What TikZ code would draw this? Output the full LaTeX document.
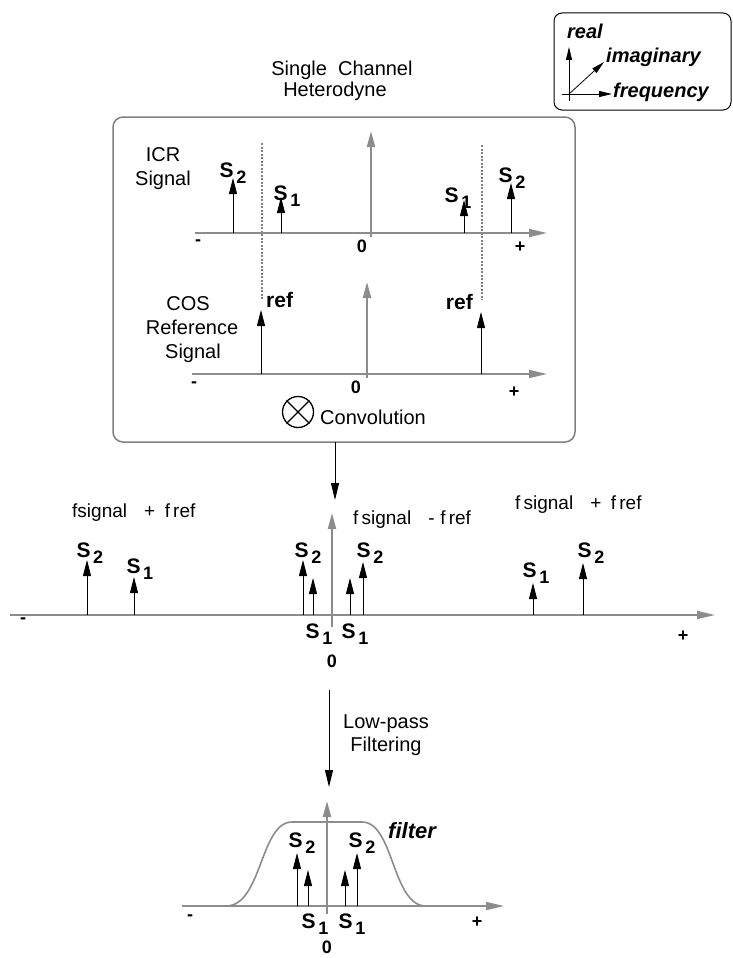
\documentclass[tikz,border=0pt]{standalone}
\usepackage{fontspec}
\setmainfont{Liberation Sans}
\usetikzlibrary{arrows.meta}
\newcommand\sgl[1]{{\fontsize{21}{21}\selectfont\bfseries S\hspace{2.5pt}\raisebox{-6pt}{\fontsize{18}{18}\selectfont #1}}}
\begin{document}
\begin{tikzpicture}[x=1pt,y=-1pt,
  txt/.style={font=\fontsize{20}{24}\selectfont, inner sep=0pt, anchor=base},
  ftxt/.style={font=\fontsize{19}{24}\selectfont, inner sep=0pt, anchor=base west},
  sym/.style={font=\fontsize{18}{18}\selectfont\bfseries, inner sep=0pt},
  lab/.style={inner sep=0pt, anchor=base},
  leg/.style={font=\fontsize{20}{20}\selectfont\bfseries\itshape, inner sep=0pt, anchor=base west},
  gaxis/.style={draw=black!45, line width=1.6pt, -{Triangle[length=18pt,width=8pt]}},
  gzero/.style={draw=black!45, line width=2pt, -{Triangle[length=16pt,width=8pt]}},
  sarrow/.style={draw=black, line width=0.9pt, -{Triangle[length=16pt,width=8pt]}},
  flowarrow/.style={draw=black, line width=1pt, -{Triangle[length=17pt,width=8pt]}},
  legarrow/.style={draw=black, line width=0.8pt, -{Triangle[length=13pt,width=6pt]}},
  guideline/.style={draw=black!50, line width=1.5pt, dash pattern=on 2pt off 1.5pt},
  gbox/.style={draw=black!50, line width=1.5pt, rounded corners=10pt},
]
\useasboundingbox (0,0) rectangle (732,958);

% ---------- legend ----------
\draw[black, line width=1pt, rounded corners=8pt] (554,13) rectangle (731,110);
\coordinate (o) at (569,94);
\coordinate (ore) at (569,47);
\coordinate (oim) at (604,62);
\coordinate (ofr) at (612,94);
\draw[black, line width=0.8pt] (569,101) -- (o);
\draw[black, line width=0.8pt] (562,94) -- (o);
\draw[legarrow] (o) -- (ore);
\draw[legarrow] (o) -- (oim);
\draw[legarrow] (o) -- (ofr);
\node[leg] (lreal) at (567,38) {real};
\node[leg] (limag) at (606,63) {imaginary};
\node[leg] (lfreq) at (613,97) {frequency};

% ---------- title ----------
\node[txt] (t1) at (342,75) {Single\ \ Channel};
\node[txt] (t2) at (335,96) {Heterodyne};

% ---------- main box ----------
\draw[gbox] (113,117) rectangle (575,442);
\node[txt] (icr1) at (163,161) {ICR};
\node[txt] (icr2) at (163,185) {Signal};
\node[txt] (cos1) at (188,310) {COS};
\node[txt] (cos2) at (192,334) {Reference};
\node[txt] (cos3) at (193,358) {Signal};

% guides
\draw[guideline] (262,143) -- (262,300);
\draw[guideline] (482,145) -- (482,300);

% axis 1
\draw[gaxis] (195,233) -- (547,233);
\draw[gzero] (371,237) -- (371,131);
\node[sym] (m1) at (198,243) {-};
\node[sym] (z1) at (362,246) {0};
\node[sym] (p1) at (520,247) {+};
\foreach \x/\t in {233/178, 281/197, 464/200, 511/183}
  \draw[sarrow] (\x,233) -- (\x,\t);
\node[lab] (a1) at (233,177) {\sgl{2}};
\node[lab] (a2) at (287,200) {\sgl{1}};
\node[lab] (a3) at (458,202) {\sgl{1}};
\node[lab] (a4) at (512,182) {\sgl{2}};

% axis 2
\draw[gaxis] (192,374) -- (547,374);
\draw[gzero] (367,378) -- (367,282);
\node[sym] (m2) at (194,385) {-};
\node[sym] (z2) at (356,387) {0};
\node[sym] (p2) at (514,392) {+};
\draw[sarrow] (261,374) -- (261,310);
\draw[sarrow] (481,374) -- (481,312);
\node[font=\fontsize{21}{21}\selectfont\bfseries, inner sep=0pt, anchor=base west] (r1) at (266,307) {ref};
\node[font=\fontsize{21}{21}\selectfont\bfseries, inner sep=0pt, anchor=base east] (r2) at (473,309) {ref};

% convolution
\node[draw, circle, line width=1.3pt, minimum size=31pt, inner sep=0pt] (otimes) at (298,412) {};
\draw[line width=1.3pt] (otimes.north west) -- (otimes.south east);
\draw[line width=1.3pt] (otimes.north east) -- (otimes.south west);
\node[txt, anchor=base west] (conv) at (320,424) {Convolution};

% ---------- flow 1 ----------
\coordinate (f1a) at (335,442);
\coordinate (f1b) at (335,500);
\draw[flowarrow] (f1a) -- (f1b);

% ---------- middle spectrum ----------
\node[ftxt] (fs1) at (72,517) {fsignal\hspace{0.9em}+\hspace{0.5em}f\,ref};
\node[ftxt] (fs2) at (353,524) {f\,signal\hspace{0.9em}-\hspace{0.3em}f\,ref};
\node[ftxt] (fs3) at (515,509) {f\,signal\hspace{0.9em}+\hspace{0.5em}f\,ref};

\draw[gaxis] (10,615) -- (715,615);
\draw[gzero] (332,627) -- (332,513);
\node[sym] (m3) at (23,621) {-};
\node[sym] (p3) at (683,636) {+};
\node[sym, anchor=base] (z3) at (332,667) {0};
\foreach \x/\t in {87/560, 134/577, 303/560, 313/578, 350/578, 363/562, 533/583, 583/563}
  \draw[sarrow] (\x,615) -- (\x,\t);
\node[lab] (b1) at (90,557) {\sgl{2}};
\node[lab] (b2) at (140,573) {\sgl{1}};
\node[lab] (b3) at (308,557) {\sgl{2}};
\node[lab] (b4) at (370,557) {\sgl{2}};
\node[lab] (b5) at (319,638) {\sgl{1}};
\node[lab] (b6) at (355,638) {\sgl{1}};
\node[lab] (b7) at (536,577) {\sgl{1}};
\node[lab] (b8) at (591,557) {\sgl{2}};

% ---------- flow 2 ----------
\coordinate (f2a) at (329,690);
\coordinate (f2b) at (329,787);
\draw[flowarrow] (f2a) -- (f2b);
\node[txt] (lp1) at (386,728) {Low-pass};
\node[txt] (lp2) at (386,751) {Filtering};

% ---------- bottom spectrum ----------
\draw[gaxis] (182,906) -- (504,906);
\draw[draw=black!45, line width=1.6pt] (226,906) .. controls (262,906) and (260,822) .. (292,822) -- (362,822) .. controls (394,822) and (392,906) .. (426,906);
\draw[gzero] (327,914) -- (327,801);
\node[sym] (m4) at (190,918) {-};
\node[sym] (p4) at (477,922) {+};
\node[sym, anchor=base] (z4) at (327,953) {0};
\foreach \x/\t in {297/853, 308/870, 345/870, 357/853}
  \draw[sarrow] (\x,906) -- (\x,\t);
\node[lab] (c1) at (302,847) {\sgl{2}};
\node[lab] (c2) at (362,847) {\sgl{2}};
\node[lab] (c3) at (315,928) {\sgl{1}};
\node[lab] (c4) at (352,928) {\sgl{1}};
\node[font=\fontsize{22}{22}\selectfont\bfseries\itshape, inner sep=0pt, anchor=base west] (filt) at (388,838) {filter};

\end{tikzpicture}
\end{document}
